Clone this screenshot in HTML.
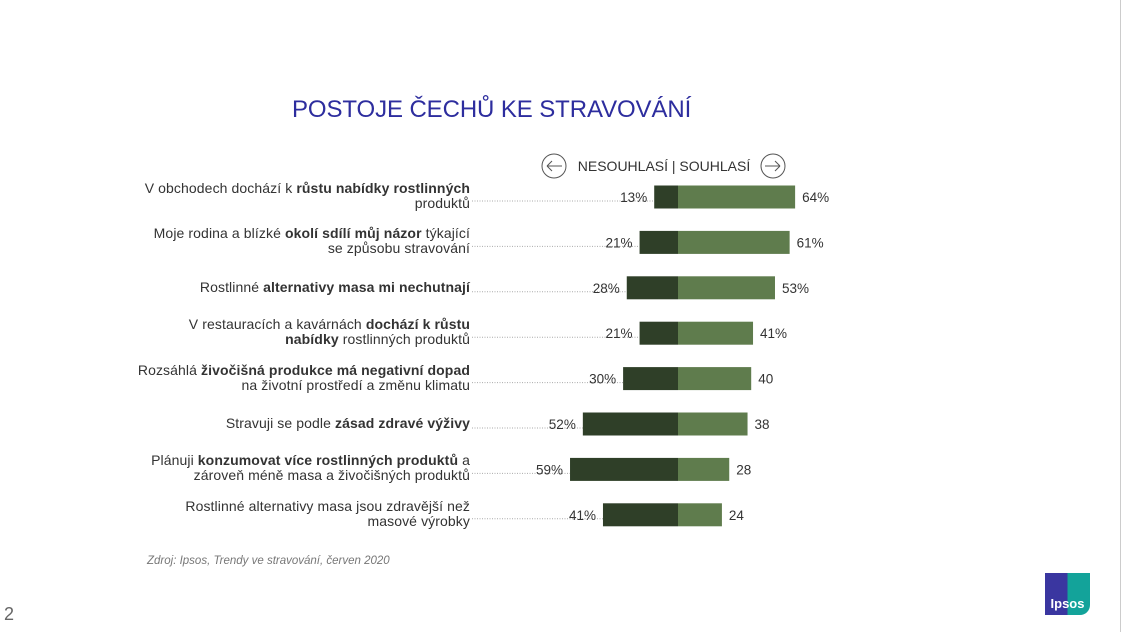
<!DOCTYPE html>
<html><head><meta charset="utf-8"><style>
body{margin:0;width:1129px;height:632px;background:#fff;position:relative;overflow:hidden;font-family:"Liberation Sans",sans-serif;color:#333}
.t{position:absolute}
</style></head><body>
<div class="t" style="left:292px;top:96px;font-size:24px;color:#2d2d9e;letter-spacing:-0.1px">POSTOJE ČECHŮ KE STRAVOVÁNÍ</div>
<div class="t" style="left:4px;top:604px;font-size:18px;color:#666">2</div>
<div class="t" style="left:147px;top:555px;font-size:11.5px;font-style:italic;color:#777">Zdroj: Ipsos, Trendy ve stravování, červen 2020</div>
<div class="t" style="left:1120px;top:0;width:1px;height:632px;background:#ccc"></div>
<div class="t" style="left:1045px;top:573px;width:45px;height:42px;background:linear-gradient(90deg,#3a36a0 0 50%,#13a39a 50%);border-radius:0 0 10px 0;color:#fff;font-weight:bold;font-size:13px;text-align:center;line-height:62px">Ipsos</div>
<svg class="t" style="left:0;top:0" width="1129" height="632" id="chart">
<g font-size="14" fill="#333">
<circle cx="554" cy="166" r="12" fill="none" stroke="#555" stroke-width="1"/>
<path d="M547 166 H562 M547 166 l5 -5 M547 166 l5 5" stroke="#555" fill="none"/>
<circle cx="773" cy="166" r="12" fill="none" stroke="#555" stroke-width="1"/>
<path d="M765 166 H780 M780 166 l-5 -5 M780 166 l-5 5" stroke="#555" fill="none"/>
<text x="664" y="171" text-anchor="middle" font-family="Liberation Sans">NESOUHLASÍ | SOUHLASÍ</text>
</g>
</svg>
<script>
const labels=[
 ['V obchodech dochází k <b>růstu nabídky rostlinných</b>','produktů'],
 ['Moje rodina a blízké <b>okolí sdílí můj názor</b> týkající','se způsobu stravování'],
 ['Rostlinné <b>alternativy masa mi nechutnají</b>'],
 ['V restauracích a kavárnách <b>dochází k růstu</b>','<b>nabídky</b> rostlinných produktů'],
 ['Rozsáhlá <b>živočišná produkce má negativní dopad</b>','na životní prostředí a změnu klimatu'],
 ['Stravuji se podle <b>zásad zdravé výživy</b>'],
 ['Plánuji <b>konzumovat více rostlinných produktů</b> a','zároveň méně masa a živočišných produktů'],
 ['Rostlinné alternativy masa jsou zdravější než','masové výrobky']
];
const disagree=[13,21,28,21,30,52,59,41];
const agree=[64,61,53,41,40,38,28,24];
const agreeLabels=['64%','61%','53%','41%','40','38','28','24'];
const svg=document.getElementById('chart');
const NS='http://www.w3.org/2000/svg';
const cx=678,scale=1.83;
const xr=v=>cx+v*scale, xl=v=>cx-v*scale;
const yc=i=>197+i*45.4;
function mk(t,a){const e=document.createElementNS(NS,t);for(const k in a)e.setAttribute(k,a[k]);svg.appendChild(e);return e;}
disagree.forEach((d,i)=>{
 const y=yc(i);
 const ln=mk('line',{x1:472,x2:xl(d),y1:y+4,y2:y+4,stroke:'#aaa','stroke-dasharray':'1,1.5'});
 
 
 const b1=mk('rect',{x:xl(d),y:y-11.5,width:d*scale,height:23,fill:'#2f3f28'});
 
 
 const b2=mk('rect',{x:cx,y:y-11.5,width:agree[i]*scale,height:23,fill:'#5f7c4d'});
 
 
 const t1=mk('text',{x:xl(d)-7,y:y+5,'text-anchor':'end','font-size':13.5,fill:'#333'});
 t1.textContent=d+'%';
 
 
 const t2=mk('text',{x:xr(agree[i])+7,y:y+5,'font-size':13.5,fill:'#333'});
 t2.textContent=agreeLabels[i];
 
 
 const div=document.createElement('div');
 div.className='t';
 
 
 const L=labels[i];
 div.style.cssText='right:'+(1129-470)+'px;text-align:right;font-size:14px;letter-spacing:0.1px;line-height:15px;white-space:nowrap;color:#333;top:'+(y-(L.length===1?8:16))+'px';
 div.innerHTML=L.join('<br>');
 document.body.appendChild(div);
});
</script>
</body></html>
